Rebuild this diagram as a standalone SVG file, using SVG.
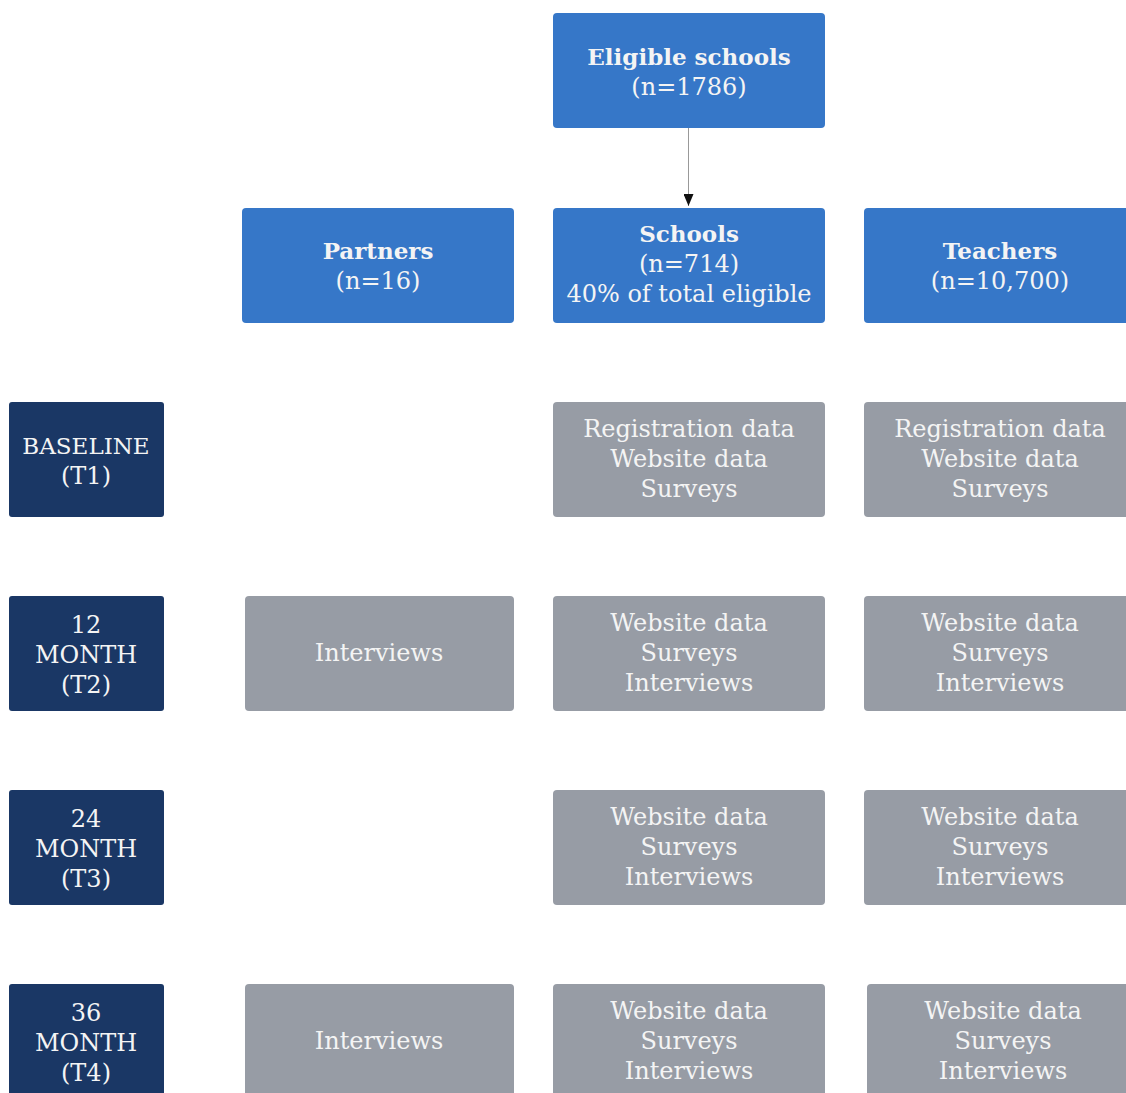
<svg xmlns="http://www.w3.org/2000/svg" width="1126" height="1093" viewBox="0 0 1126 1093">
<style>
text{font-family:"DejaVu Serif","Liberation Serif",serif;font-size:24px;text-anchor:middle;fill:#f4f4f4}
.b{font-weight:bold;font-size:23px}
.blue{fill:#3677c8}
.navy{fill:#1a3765}
.gray{fill:#979ca5}
</style>
<defs>
<marker id="ah" markerWidth="12" markerHeight="10" refX="12" refY="5" orient="auto" markerUnits="userSpaceOnUse" viewBox="0 0 12 10">
<path d="M0,0 L12,5 L0,10 Z" fill="#111"/>
</marker>
</defs>
<rect width="1126" height="1093" fill="#ffffff"/>
<g id="connectors">
<line x1="688.5" y1="128" x2="688.5" y2="206" stroke="#999" stroke-width="1" marker-end="url(#ah)"/>
</g>
<g id="eligible"><rect class="blue" x="553" y="13" width="272" height="115" rx="4"/><text class="b" x="689" y="65">Eligible schools</text><text x="689" y="95">(n=1786)</text></g>
<g id="partners"><rect class="blue" x="242" y="208" width="272" height="115" rx="4"/><text class="b" x="378" y="259">Partners</text><text x="378" y="289">(n=16)</text></g>
<g id="schools"><rect class="blue" x="553" y="208" width="272" height="115" rx="4"/><text class="b" x="689" y="242">Schools</text><text x="689" y="272">(n=714)</text><text x="689" y="302">40% of total eligible</text></g>
<g id="teachers"><rect class="blue" x="864" y="208" width="272" height="115" rx="4"/><text class="b" x="1000" y="259">Teachers</text><text x="1000" y="289">(n=10,700)</text></g>
<g id="t1"><rect class="navy" x="9" y="402" width="155" height="115" rx="3"/><text x="86" y="454" style="font-size:23px">BASELINE</text><text x="86" y="484">(T1)</text></g>
<g id="t1-schools"><rect class="gray" x="553" y="402" width="272" height="115" rx="4"/><text x="689" y="437">Registration data</text><text x="689" y="467">Website data</text><text x="689" y="497">Surveys</text></g>
<g id="t1-teachers"><rect class="gray" x="864" y="402" width="272" height="115" rx="4"/><text x="1000" y="437">Registration data</text><text x="1000" y="467">Website data</text><text x="1000" y="497">Surveys</text></g>
<g id="t2"><rect class="navy" x="9" y="596" width="155" height="115" rx="3"/><text x="86" y="633">12</text><text x="86" y="663">MONTH</text><text x="86" y="693">(T2)</text></g>
<g id="t2-partners"><rect class="gray" x="245" y="596" width="269" height="115" rx="4"/><text x="379" y="661">Interviews</text></g>
<g id="t2-schools"><rect class="gray" x="553" y="596" width="272" height="115" rx="4"/><text x="689" y="631">Website data</text><text x="689" y="661">Surveys</text><text x="689" y="691">Interviews</text></g>
<g id="t2-teachers"><rect class="gray" x="864" y="596" width="272" height="115" rx="4"/><text x="1000" y="631">Website data</text><text x="1000" y="661">Surveys</text><text x="1000" y="691">Interviews</text></g>
<g id="t3"><rect class="navy" x="9" y="790" width="155" height="115" rx="3"/><text x="86" y="827">24</text><text x="86" y="857">MONTH</text><text x="86" y="887">(T3)</text></g>
<g id="t3-schools"><rect class="gray" x="553" y="790" width="272" height="115" rx="4"/><text x="689" y="825">Website data</text><text x="689" y="855">Surveys</text><text x="689" y="885">Interviews</text></g>
<g id="t3-teachers"><rect class="gray" x="864" y="790" width="272" height="115" rx="4"/><text x="1000" y="825">Website data</text><text x="1000" y="855">Surveys</text><text x="1000" y="885">Interviews</text></g>
<g id="t4"><rect class="navy" x="9" y="984" width="155" height="115" rx="3"/><text x="86" y="1021">36</text><text x="86" y="1051">MONTH</text><text x="86" y="1081">(T4)</text></g>
<g id="t4-partners"><rect class="gray" x="245" y="984" width="269" height="115" rx="4"/><text x="379" y="1049">Interviews</text></g>
<g id="t4-schools"><rect class="gray" x="553" y="984" width="272" height="115" rx="4"/><text x="689" y="1019">Website data</text><text x="689" y="1049">Surveys</text><text x="689" y="1079">Interviews</text></g>
<g id="t4-teachers"><rect class="gray" x="867" y="984" width="272" height="115" rx="4"/><text x="1003" y="1019">Website data</text><text x="1003" y="1049">Surveys</text><text x="1003" y="1079">Interviews</text></g>
</svg>
